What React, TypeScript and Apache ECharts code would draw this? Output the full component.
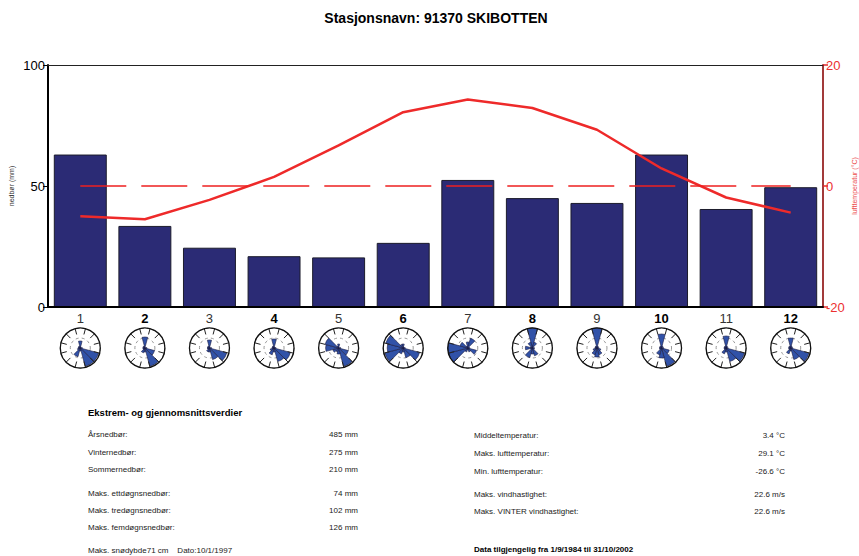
import React, { useEffect, useRef } from "react";
import * as echarts from "echarts";

// Monthly climate normals for 91370 Skibotten
const months = ["1", "2", "3", "4", "5", "6", "7", "8", "9", "10", "11", "12"];
const precipitation = [63, 33.5, 24.5, 21, 20.5, 26.5, 52.5, 45, 43, 63, 40.5, 49.5];
const temperature = [-5.0, -5.5, -2.3, 1.5, 6.7, 12.2, 14.3, 12.9, 9.3, 2.9, -1.9, -4.4];

const precipTicks = { min: 0, max: 100, interval: 50 };
const tempTicks = { min: -20, max: 20, interval: 20 };

// Wind direction sectors, 30° each, clockwise from north
const windDirections = ["0", "30", "60", "90", "120", "150", "180", "210", "240", "270", "300", "330"];
// relative frequency per sector for each month (fraction of rose radius)
const windRose = [
  [0.35, 0, 0, 0.1, 0.95, 0.95, 0.15, 0.45, 0.15, 0.1, 0.1, 0.1],
  [0.55, 0, 0, 0.1, 0.5, 0.95, 0.2, 0.25, 0.1, 0.1, 0.1, 0.1],
  [0.4, 0, 0, 0.1, 0.9, 0.6, 0.2, 0.2, 0.1, 0.1, 0.1, 0.1],
  [0.45, 0, 0, 0.1, 0.85, 0.7, 0.2, 0.35, 0.2, 0.1, 0.1, 0.1],
  [0.2, 0, 0, 0.1, 0.5, 0.95, 0.3, 0.2, 0.3, 0.65, 0.7, 0.1],
  [0.2, 0, 0, 0.1, 0.85, 0.5, 0.2, 0.3, 0.95, 0.8, 0.9, 0.2],
  [0.3, 0.5, 0, 0.1, 0.45, 0.2, 0.1, 0.2, 1.0, 1.0, 0.4, 0.1],
  [1.0, 0.3, 0, 0.1, 0.1, 0.4, 0.3, 0.5, 0.1, 0.35, 0.1, 0.3],
  [1.0, 0.1, 0, 0.1, 0.2, 0.35, 0.45, 0.35, 0.2, 0.1, 0.1, 0.1],
  [0.7, 0.1, 0, 0.1, 0.4, 0.95, 0.5, 0.35, 0.1, 0.1, 0.1, 0.1],
  [0.6, 0.1, 0, 0.1, 0.95, 0.7, 0.2, 0.3, 0.1, 0.1, 0.1, 0.1],
  [0.5, 0.1, 0, 0.1, 0.95, 0.6, 0.15, 0.3, 0.1, 0.1, 0.1, 0.1],
];

const leftRows = [
  ["Årsnedbør:", "485 mm"],
  ["Vinternedbør:", "275 mm"],
  ["Sommernedbør:", "210 mm"],
  ["Maks. ettdøgnsnedbør:", "74 mm"],
  ["Maks. tredøgnsnedbør:", "102 mm"],
  ["Maks. femdøgnsnedbør:", "126 mm"],
];
const rightRows = [
  ["Middeltemperatur:", "3.4 °C"],
  ["Maks. lufttemperatur:", "29.1 °C"],
  ["Min. lufttemperatur:", "-26.6 °C"],
  ["Maks. vindhastighet:", "22.6 m/s"],
  ["Maks. VINTER vindhastighet:", "22.6 m/s"],
];

const FONT = "'Liberation Sans', Arial, sans-serif";
const W = 859;
const H = 556;
const GRID = { left: 48, right: 36, top: 65, bottom: 249 };

export default function App() {
  const ref = useRef<HTMLDivElement>(null);

  useEffect(() => {
    document.body.style.margin = "0";
    if (!ref.current) return;
    const chart = echarts.init(ref.current, null, { renderer: "svg" });

    const plotW = W - GRID.left - GRID.right;
    const band = plotW / months.length;
    const roseY = 348;

    const polar = months.map((_, i) => ({
      center: [GRID.left + band * (i + 0.5), roseY],
      radius: 20,
    }));
    const angleAxis = months.map((_, i) => ({
      polarIndex: i,
      type: "category",
      data: windDirections,
      startAngle: 105,
      clockwise: true,
      z: 3,
      axisLine: { show: true, lineStyle: { color: "#111", width: 1.3 } },
      axisTick: { show: true, inside: true, length: 6, lineStyle: { color: "#222", width: 1 } },
      axisLabel: { show: false },
      splitLine: { show: false },
    }));
    const radiusAxis = months.map((_, i) => ({
      polarIndex: i,
      type: "value",
      min: 0,
      max: 1,
      interval: 0.5,
      axisLine: { show: false },
      axisTick: { show: false },
      axisLabel: { show: false },
      splitLine: { show: true, lineStyle: { color: "#999", type: [3, 3], width: 1 } },
    }));
    const roseSeries = windRose.map((vals, i) => ({
      type: "bar",
      coordinateSystem: "polar",
      polarIndex: i,
      data: vals,
      barCategoryGap: "0%",
      itemStyle: { color: "#3152a8", borderColor: "#1a1a40", borderWidth: 0.6 },
      silent: true,
    }));

    const text = (x: number, y: number, t: string, extra: any = {}) => ({
      type: "text",
      x,
      y,
      style: {
        text: t,
        fontFamily: FONT,
        fontSize: 8,
        fill: "#222",
        textVerticalAlign: "middle",
        ...extra,
      },
    });

    const leftY = [434, 452, 469, 493, 510, 527];
    const rightY = [435, 453, 471, 494, 511];
    const graphics: any[] = [
      text(436, 18, "Stasjonsnavn: 91370 SKIBOTTEN", {
        fontSize: 14,
        fontWeight: "bold",
        fill: "#000",
        textAlign: "center",
      }),
      text(88, 412, "Ekstrem- og gjennomsnittsverdier", { fontSize: 9.5, fontWeight: "bold", fill: "#000" }),
      ...leftRows.flatMap((r, i) => [
        text(88, leftY[i], r[0]),
        text(358, leftY[i], r[1], { textAlign: "right" }),
      ]),
      text(88, 550, "Maks. snødybde71 cm    Dato:10/1/1997"),
      ...rightRows.flatMap((r, i) => [
        text(474, rightY[i], r[0]),
        text(785, rightY[i], r[1], { textAlign: "right" }),
      ]),
      text(474, 549, "Data tilgjengelig fra 1/9/1984 til 31/10/2002", {
        fontWeight: "bold",
        fill: "#000",
      }),
    ];

    chart.setOption({
      animation: false,
      backgroundColor: "#fff",
      textStyle: { fontFamily: FONT },
      grid: { ...GRID, containLabel: false, outerBoundsMode: "none" },
      xAxis: [
        {
          type: "category",
          data: months,
          position: "bottom",
          z: 5,
          axisLine: { onZero: false, lineStyle: { color: "#000", width: 2 } },
          axisTick: { inside: true, alignWithLabel: true, length: 7, lineStyle: { color: "#555", width: 1 } },
          axisLabel: {
            fontSize: 13,
            color: "#333",
            margin: 5,
            formatter: (v: string) => (Number(v) % 2 === 0 ? `{b|${v}}` : v),
            rich: { b: { fontSize: 13, fontWeight: "bold", color: "#000", fontFamily: FONT } },
          },
        },
        {
          type: "category",
          data: months,
          position: "top",
          z: 5,
          axisLine: { onZero: false, lineStyle: { color: "#222", width: 1.2 } },
          axisTick: { inside: true, alignWithLabel: true, length: 5, lineStyle: { color: "#333" } },
          axisLabel: { show: false },
        },
      ],
      yAxis: [
        {
          type: "value",
          position: "left",
          ...precipTicks,
          name: "nedbør (mm)",
          nameLocation: "middle",
          nameRotate: 90,
          nameGap: 33,
          nameMoveOverlap: false,
          nameTextStyle: { fontSize: 7, color: "#333" },
          axisLine: { show: true, onZero: false, lineStyle: { color: "#000", width: 2 } },
          axisTick: { show: true, length: 5, lineStyle: { color: "#000" } },
          axisLabel: { fontSize: 13, color: "#000", margin: 3 },
          splitLine: { show: false },
        },
        {
          type: "value",
          position: "right",
          ...tempTicks,
          name: "lufttemperatur (°C)",
          nameLocation: "middle",
          nameRotate: 90,
          nameGap: 28,
          nameMoveOverlap: false,
          nameTextStyle: { fontSize: 7, color: "#ec4b4b" },
          axisLine: { show: true, onZero: false, lineStyle: { color: "#a23a3a", width: 2 } },
          axisTick: { show: true, length: 5, lineStyle: { color: "#e52a2a", width: 1.5 } },
          axisLabel: { fontSize: 13, color: "#ec3030", margin: 3 },
          splitLine: { show: false },
        },
      ],
      polar,
      angleAxis,
      radiusAxis,
      series: [
        {
          name: "nedbør",
          type: "bar",
          xAxisIndex: 0,
          yAxisIndex: 0,
          data: precipitation,
          barCategoryGap: "18%",
          itemStyle: { color: "#2b2b75", borderColor: "#1c1c2c", borderWidth: 1 },
        },
        {
          name: "lufttemperatur",
          type: "line",
          xAxisIndex: 0,
          yAxisIndex: 1,
          data: temperature,
          symbol: "none",
          z: 4,
          lineStyle: { color: "#ee2a2a", width: 2.5 },
          markLine: {
            silent: true,
            symbol: "none",
            label: { show: false },
            lineStyle: { color: "#ee2020", width: 1.5, type: [46, 15] },
            data: [[{ coord: [months[0], 0] }, { coord: [months[months.length - 1], 0] }]],
          },
        },
        ...roseSeries,
      ],
      graphic: graphics,
    });

    return () => chart.dispose();
  }, []);

  return <div ref={ref} style={{ width: W, height: H }} />;
}
